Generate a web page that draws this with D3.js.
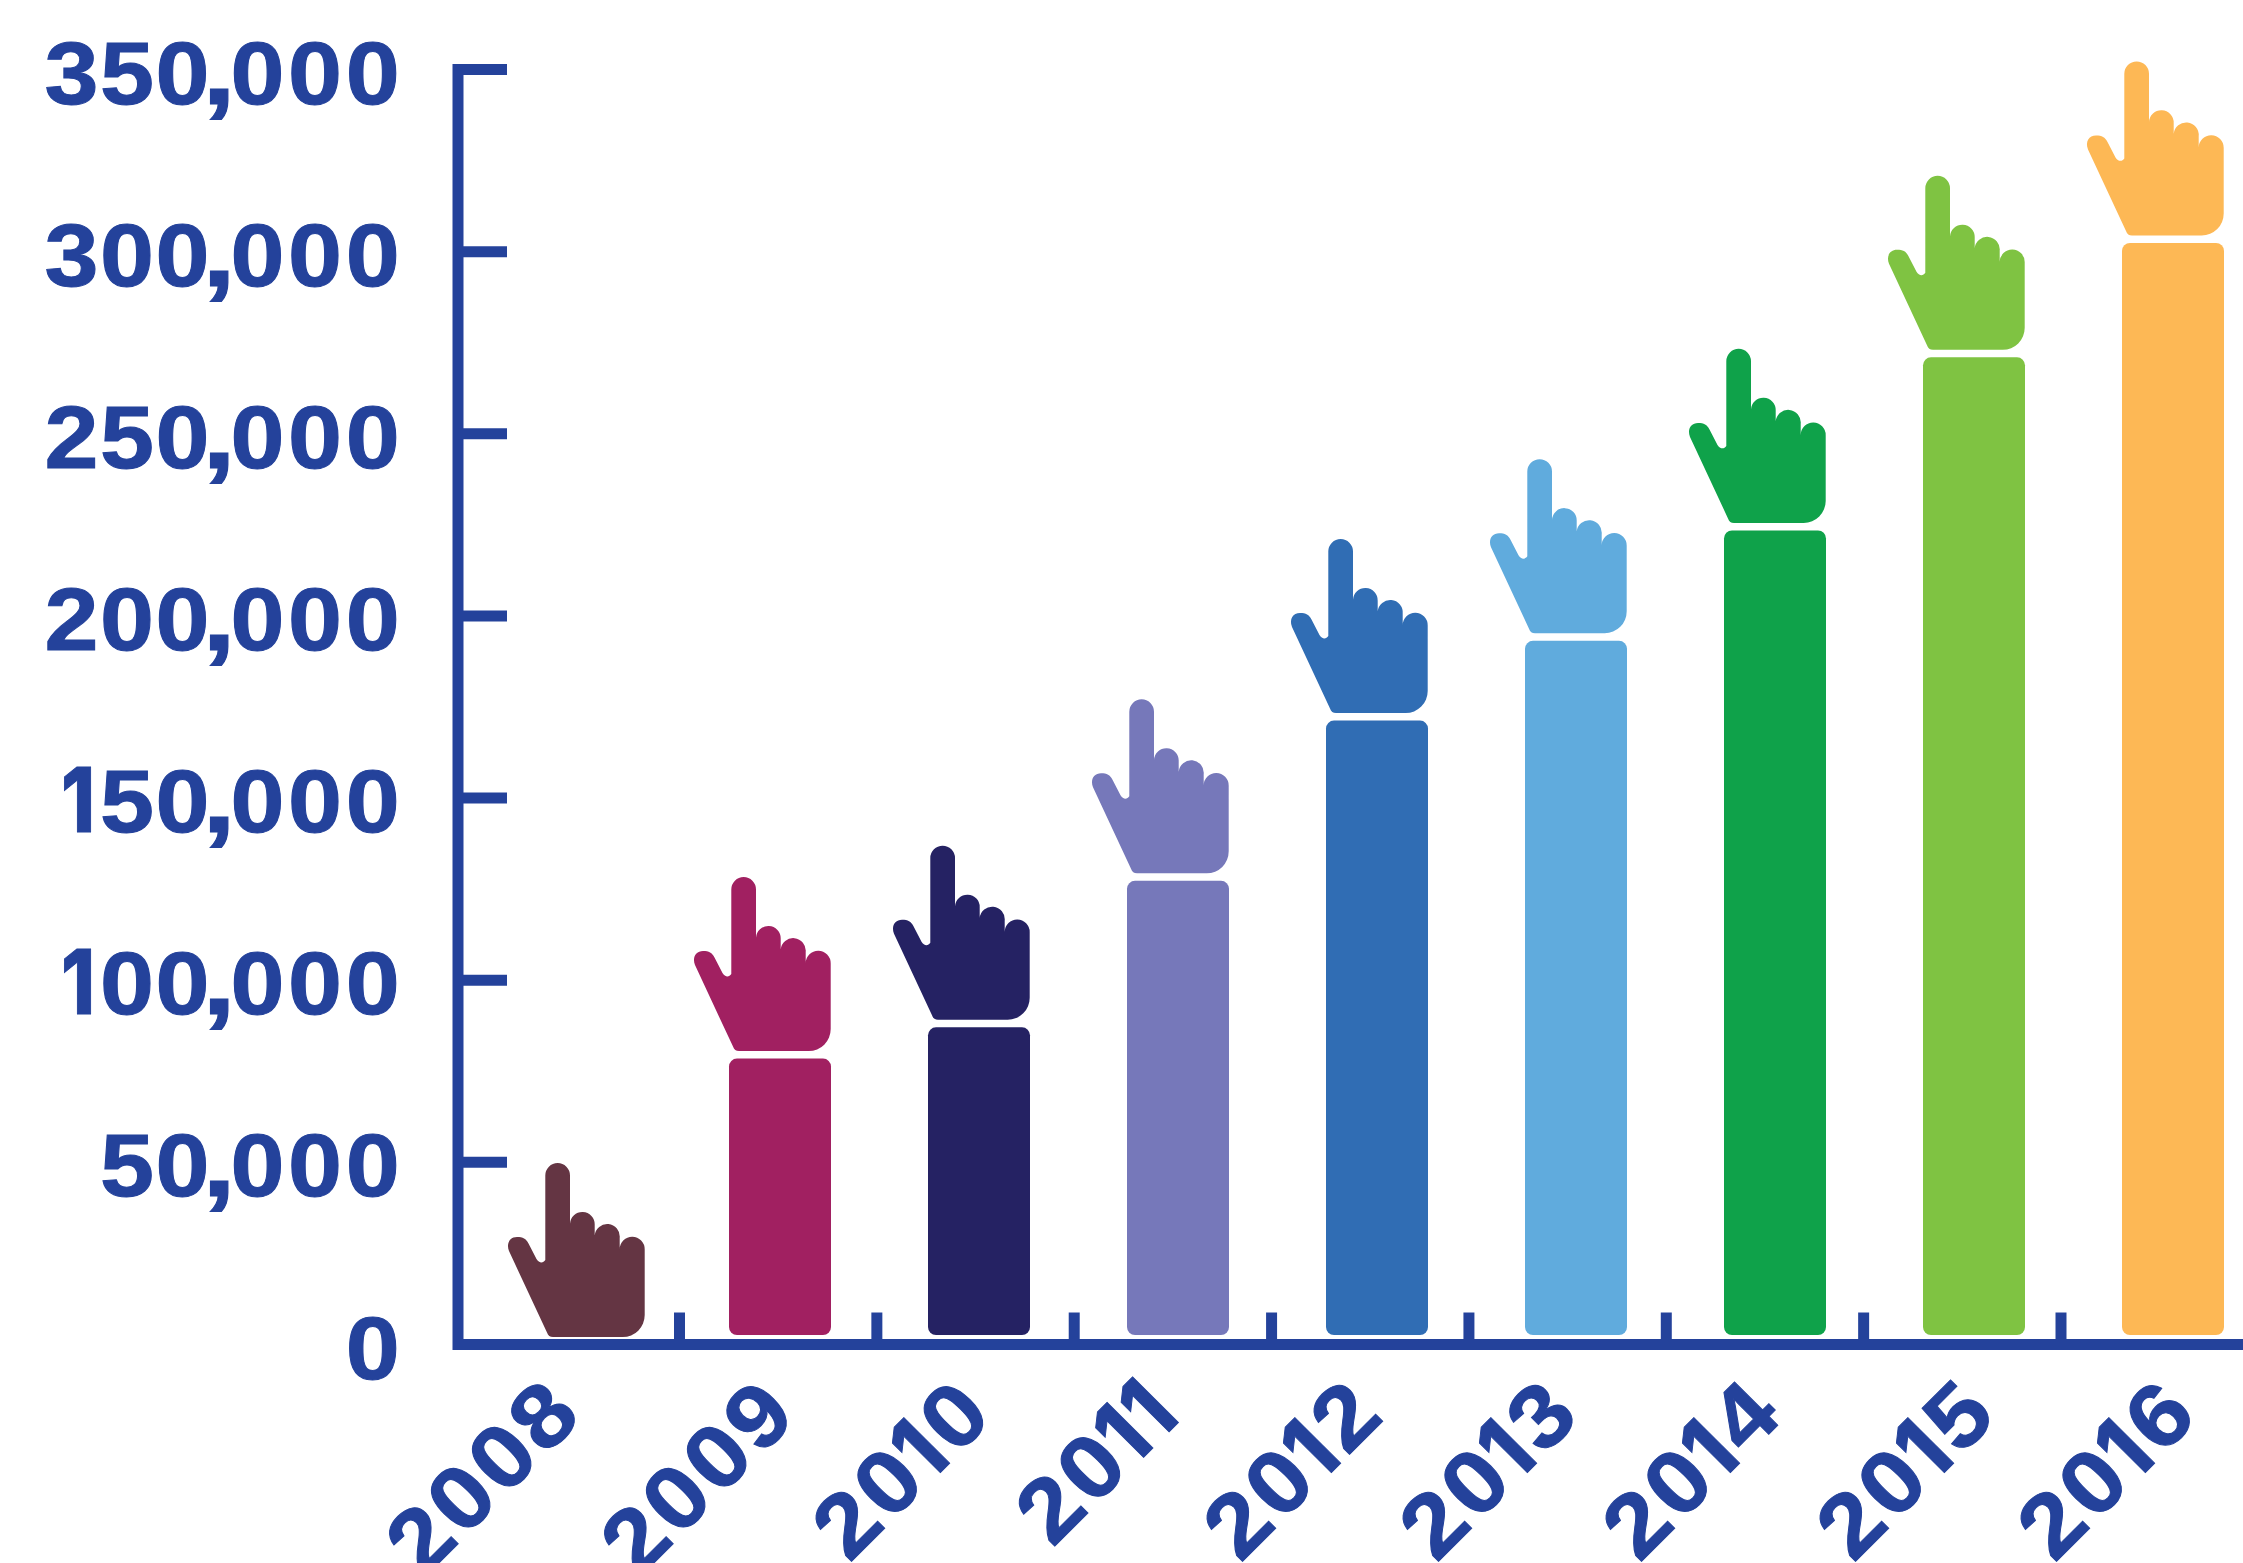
<!DOCTYPE html>
<html>
<head>
<meta charset="utf-8">
<script src="https://cdn.jsdelivr.net/npm/d3@7"></script>
<style>
  html, body { margin: 0; padding: 0; background: #fff; overflow: hidden; }
  text { font-family: "Liberation Sans", sans-serif; font-weight: bold; fill: #24429b; stroke: #24429b; stroke-width: 1; }
</style>
</head>
<body>
<div id="chart-area"></div>
<script>
// values are read at the fingertip of each hand
var years = [2008, 2009, 2010, 2011, 2012, 2013, 2014, 2015, 2016];
var values = [49800, 128300, 136900, 177100, 221100, 243000, 273300, 320800, 352200];
var colors = ["#643543", "#a12061", "#252263", "#7678ba", "#306db4", "#60abdd", "#0fa24a", "#7fc342", "#fdb855"];
var yTicks = [0, 50000, 100000, 150000, 200000, 250000, 300000, 350000];
var xTickYears = [2008.5, 2009.5, 2010.5, 2011.5, 2012.5, 2013.5, 2014.5, 2015.5];

// layout
var W = 2243, H = 1563;
var axisColor = "#24429b", axisW = 11;
var handW = 137, handH = 174, handGap = 7.5, barW = 102, barLift = 9.5;
var firstHandNudge = 13;
var labelSize = 89, digitW = 54;
var digitAdv = 57.7, tightAdv = 55.5, oneAdv = 36, oneW = 34;
var commaAdv = 19.5, commaShift = -9, commaSize = 100, commaW = 34;
// the rotated year labels are not evenly spaced in the original
var labelEnd = [586, 801, 997, 1185, 1388, 1584, 1787, 2001, 2202];
var labelEndY = 1416;

// hand outline, origin at top left of the hand box
var handPath = "M37.3,12.3 A12.35,12.35 0 0 1 62,12.3 L62,60.7 " +
  "A12.35,12.35 0 0 1 86.7,61.7 L86.7,72.3 " +
  "A12.5,12.5 0 0 1 111.7,74.7 L111.7,86 " +
  "A12.5,12.5 0 0 1 136.7,86.3 L136.7,152 " +
  "A22,22 0 0 1 114.7,174 L45,174 Q40.5,174 39,169.5 " +
  "L1,88 C-2,80 2,74 9,74 C15,74 18,75.5 20.5,80.5 L28.5,96 " +
  "C31,100 35,100.5 37.3,97 Z";

var svg = d3.select("#chart-area").append("svg")
    .attr("width", W)
    .attr("height", H)
    .style("display", "block");

var y = d3.scaleLinear().domain([0, 350000]).range([1344.5, 69.5]);
var x = d3.scaleLinear().domain([2009, 2016]).range([831, 2224]);
var xTick = d3.scaleLinear().domain([2008.5, 2015.5]).range([679.5, 2061]);

var data = years.map(function(d, i) {
  return {year: d, value: values[i], color: colors[i], labelX: labelEnd[i]};
});

function handRight(d) {
  return x(d.year) + (d.year === 2008 ? firstHandNudge : 0);
}

// sets a label char by char, right aligned on endX. The original has wide digits,
// a tight comma and a narrow 1 without foot, so the 1 comes from Inter
function setLabel(sel, str, endX) {
  var chars = String(str).split("");
  var comma = chars.indexOf(",");
  var adv = chars.map(function(c, i) {
    if (c === ",") return commaAdv;
    if (c === "1") return oneAdv;
    return i < comma ? tightAdv : digitAdv;
  });
  var pos = endX - d3.sum(adv);
  sel.text(null);
  chars.forEach(function(c, i) {
    sel.append("tspan")
        .attr("x", pos + (c === "," ? commaShift : (c === "1" ? -3 : 0)))
        .attr("font-size", c === "," ? commaSize : labelSize)
        .attr("textLength", c === "," ? commaW : (c === "1" ? oneW : digitW))
        .attr("lengthAdjust", "spacingAndGlyphs")
        .style("font-family", c === "1" ? "Inter" : "Liberation Sans")
        .style("font-weight", c === "1" ? 800 : 700)
        .text(c);
    pos += adv[i];
  });
}

// bars, the first year is only a hand
svg.selectAll("rect.bar")
  .data(data.filter(function(d) { return y(d.value) + handH + handGap < y(0) - barLift; }))
  .enter().append("rect")
    .attr("class", "bar")
    .attr("x", function(d) { return handRight(d) - barW; })
    .attr("y", function(d) { return y(d.value) + handH + handGap; })
    .attr("width", barW)
    .attr("height", function(d) { return y(0) - barLift - (y(d.value) + handH + handGap); })
    .attr("rx", 8)
    .attr("fill", function(d) { return d.color; });

svg.selectAll("path.hand")
  .data(data)
  .enter().append("path")
    .attr("class", "hand")
    .attr("d", handPath)
    .attr("transform", function(d) {
      return "translate(" + (handRight(d) - handW) + "," + y(d.value) + ")";
    })
    .attr("fill", function(d) { return d.color; });

// y axis
var yAxisCall = d3.axisLeft(y)
    .tickValues(yTicks)
    .tickSizeInner(-49)
    .tickSizeOuter(0)
    .offset(0)
    .tickFormat(d3.format(","));

var yAxis = svg.append("g")
    .attr("class", "y axis")
    .attr("transform", "translate(458,0)")
    .call(yAxisCall);

yAxis.select(".domain")
    .attr("stroke", axisColor)
    .attr("stroke-width", axisW)
    .attr("stroke-linecap", "square");
yAxis.selectAll(".tick line")
    .attr("stroke", axisColor)
    .attr("stroke-width", axisW);
yAxis.selectAll(".tick text")
    .attr("dy", null)
    .attr("x", null)
    .attr("y", 34)
    .attr("text-anchor", "start")
    .attr("font-size", labelSize)
    .style("fill", axisColor)
    .each(function() {
      var t = d3.select(this);
      setLabel(t, t.text(), -54.5);
    });

// x axis, ticks stand between the years and point upward
var xAxisCall = d3.axisBottom(xTick)
    .tickValues(xTickYears)
    .tickSizeInner(-32)
    .tickSizeOuter(0)
    .offset(0)
    .tickFormat("");

var xAxis = svg.append("g")
    .attr("class", "x axis")
    .attr("transform", "translate(0,1344.5)")
    .call(xAxisCall);

xAxis.select(".domain").remove();
xAxis.selectAll(".tick line")
    .attr("stroke", axisColor)
    .attr("stroke-width", axisW);
xAxis.append("line")
    .attr("x1", 453)
    .attr("x2", W)
    .attr("stroke", axisColor)
    .attr("stroke-width", axisW);

// rotated year labels
svg.selectAll("text.year")
  .data(data)
  .enter().append("text")
    .attr("class", "year")
    .attr("font-size", labelSize)
    .attr("transform", function(d) {
      return "translate(" + d.labelX + "," + labelEndY + ") rotate(-45)";
    })
    .each(function(d) { setLabel(d3.select(this), d.year, 0); });
</script>
</body>
</html>
